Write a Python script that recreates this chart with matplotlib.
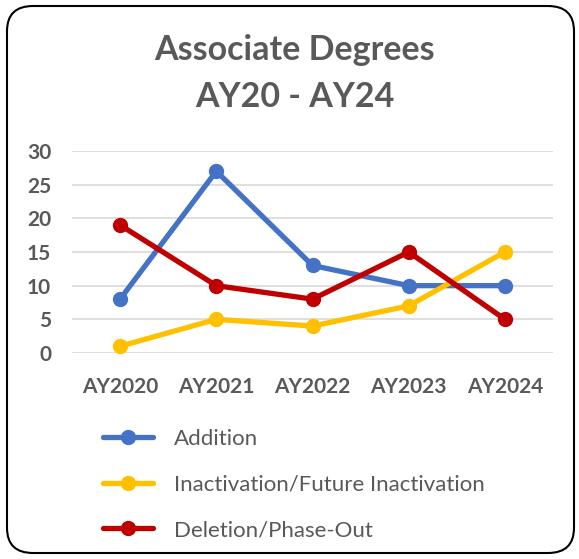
import matplotlib.pyplot as plt
from matplotlib.patches import FancyBboxPatch

years = ["AY2020", "AY2021", "AY2022", "AY2023", "AY2024"]
addition = [8, 27, 13, 10, 10]
inactivation = [1, 5, 4, 7, 15]
deletion = [19, 10, 8, 15, 5]

series_names = ["Addition", "Inactivation/Future Inactivation", "Deletion/Phase-Out"]
colors = ["#4472C4", "#FFC000", "#C00000"]
text_gray = "#595959"

plt.rcParams['font.family'] = ['Lato', 'DejaVu Sans']

W, H = 579, 559
fig = plt.figure(figsize=(W / 100, H / 100), dpi=100)

# rounded chart border
border = FancyBboxPatch((7 / W, 6 / H), 567 / W, 547 / H,
                        boxstyle="round,pad=0,rounding_size=0.045",
                        transform=fig.transFigure, fill=False,
                        edgecolor="black", linewidth=1.5)
fig.patches.append(border)

ax = fig.add_axes([72 / W, 206 / H, 481 / W, 202 / H])
x = list(range(len(years)))
for vals, name, c in zip([addition, inactivation, deletion], series_names, colors):
    ax.plot(x, vals, color=c, linewidth=3.8, marker="o", markersize=10,
            label=name, solid_capstyle="round", clip_on=False)

ax.set_xlim(-0.5, 4.5)
ax.set_ylim(0, 30)
ax.set_yticks(range(0, 31, 5))
ax.set_xticks(x)
ax.set_xticklabels(years)
ax.grid(axis="y", color="#D9D9D9", linewidth=1.2)
ax.set_axisbelow(True)
for s in ax.spines.values():
    s.set_visible(False)
ax.tick_params(length=0, labelcolor=text_gray, labelsize=15)
ax.tick_params(axis="y", pad=15)
ax.tick_params(axis="x", pad=17)
for lab in ax.get_xticklabels() + ax.get_yticklabels():
    lab.set_fontweight("bold")

fig.text(295 / W, 1 - 50 / H, "Associate Degrees", ha="center", va="center",
         fontsize=24.5, fontweight="bold", color=text_gray)
fig.text(295 / W, 1 - 97 / H, "AY20 - AY24", ha="center", va="center",
         fontsize=24.5, fontweight="bold", color=text_gray)

leg = fig.legend(loc="upper left", bbox_to_anchor=(92 / W, 1 - 418 / H),
                 frameon=False, fontsize=16, handlelength=2.25,
                 handletextpad=0.95, labelspacing=1.15, borderpad=0)
for t in leg.get_texts():
    t.set_color(text_gray)

fig.savefig("out.png", dpi=100)
